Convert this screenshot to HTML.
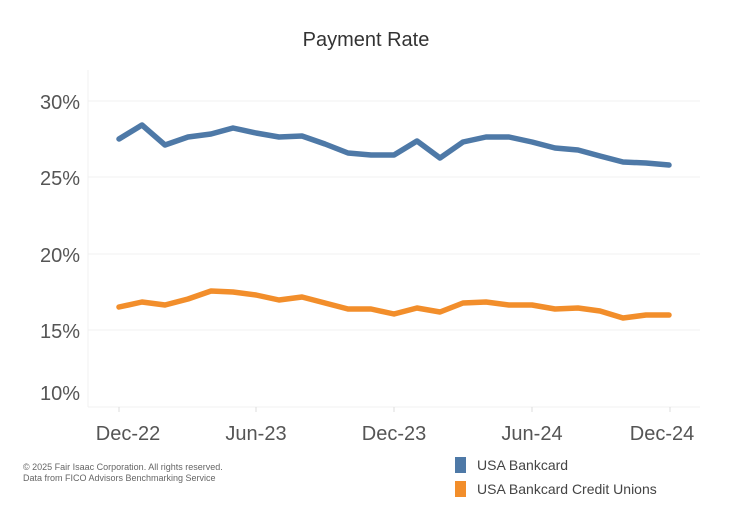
<!DOCTYPE html><html><head><style>body{margin:0;background:#fff}svg{display:block}</style></head><body>
<svg width="745" height="514" xmlns="http://www.w3.org/2000/svg" font-family="Liberation Sans, sans-serif">
<rect width="745" height="514" fill="#fff"/>
<text x="366" y="46" text-anchor="middle" font-size="20" fill="#333">Payment Rate</text>
<g stroke="#f0f0f0" stroke-width="1">
<line x1="88" y1="101" x2="700" y2="101"/><line x1="88" y1="177" x2="700" y2="177"/>
<line x1="88" y1="254" x2="700" y2="254"/><line x1="88" y1="330" x2="700" y2="330"/>
<line x1="88" y1="407" x2="700" y2="407"/><line x1="88" y1="70" x2="88" y2="407"/>
</g>
<g stroke="#ddd"><line x1="119" y1="407" x2="119" y2="412"/><line x1="256" y1="407" x2="256" y2="412"/><line x1="394" y1="407" x2="394" y2="412"/><line x1="532" y1="407" x2="532" y2="412"/><line x1="670" y1="407" x2="670" y2="412"/></g>
<g font-size="20" fill="#555" text-anchor="end">
<text x="80" y="109">30%</text><text x="80" y="185">25%</text><text x="80" y="262">20%</text><text x="80" y="338">15%</text><text x="80" y="400">10%</text>
</g>
<g font-size="20" fill="#555" text-anchor="middle">
<text x="128" y="440">Dec-22</text><text x="256" y="440">Jun-23</text><text x="394" y="440">Dec-23</text><text x="532" y="440">Jun-24</text><text x="662" y="440">Dec-24</text>
</g>
<polyline fill="none" stroke="#4e79a7" stroke-width="5.5" stroke-linejoin="round" stroke-linecap="round" points="119,139 142,125 165,145 188,137 211,134 233,128 256,133 279,137 302,136 325,144 348,153 371,155 394,155 417,141 440,158 463,142 486,137 509,137 532,142 555,148 578,150 600,156 623,162 646,163 669,165"/>
<polyline fill="none" stroke="#f28e2b" stroke-width="5.5" stroke-linejoin="round" stroke-linecap="round" points="119,307 142,302 165,305 188,299 211,291 233,292 256,295 279,300 302,297 325,303 348,309 371,309 394,314 417,308 440,312 463,303 486,302 509,305 532,305 555,309 578,308 600,311 623,318 646,315 669,315"/>
<g font-size="9" fill="#666"><text x="23" y="470">© 2025 Fair Isaac Corporation. All rights reserved.</text><text x="23" y="481">Data from FICO Advisors Benchmarking Service</text></g>
<rect x="455" y="457" width="11" height="16" fill="#4e79a7"/>
<rect x="455" y="481" width="11" height="16" fill="#f28e2b"/>
<g font-size="14" fill="#444"><text x="477" y="470">USA Bankcard</text><text x="477" y="494">USA Bankcard Credit Unions</text></g>
</svg></body></html>
